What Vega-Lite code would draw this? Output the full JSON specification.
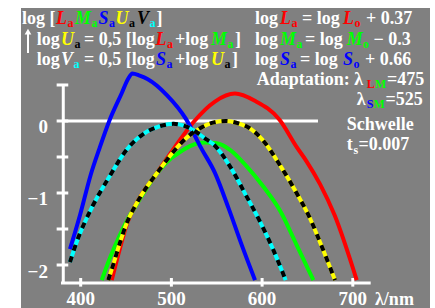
{
  "$schema": "https://vega.github.io/schema/vega-lite/v6.json",
  "width": 409,
  "height": 300,
  "autosize": {"type": "none"},
  "padding": {"left": 21, "top": 8, "right": 5, "bottom": 0},
  "background": "white",
  "config": {"view": {"fill": "#808080", "stroke": null}},
  "datasets": {
    "curves": [
      {"s": "L", "x": 434.2, "y": -2.21}, {"s": "L", "x": 442, "y": -1.83}, {"s": "L", "x": 450.7, "y": -1.44}, {"s": "L", "x": 465.4, "y": -1.06}, {"s": "L", "x": 482.6, "y": -0.75}, {"s": "L", "x": 504, "y": -0.36}, {"s": "L", "x": 524, "y": -0.02}, {"s": "L", "x": 548, "y": 0.27}, {"s": "L", "x": 570, "y": 0.38}, {"s": "L", "x": 592, "y": 0.28}, {"s": "L", "x": 619, "y": 0.02}, {"s": "L", "x": 638, "y": -0.36}, {"s": "L", "x": 649, "y": -0.56}, {"s": "L", "x": 664, "y": -0.88}, {"s": "L", "x": 680, "y": -1.31}, {"s": "L", "x": 704.3, "y": -2.21},
      {"s": "M", "x": 423.2, "y": -2.21}, {"s": "M", "x": 433, "y": -1.88}, {"s": "M", "x": 443.3, "y": -1.58}, {"s": "M", "x": 452, "y": -1.36}, {"s": "M", "x": 461, "y": -1.17}, {"s": "M", "x": 482.6, "y": -0.75}, {"s": "M", "x": 498.5, "y": -0.53}, {"s": "M", "x": 509.5, "y": -0.43}, {"s": "M", "x": 520.5, "y": -0.35}, {"s": "M", "x": 537, "y": -0.3}, {"s": "M", "x": 550, "y": -0.31}, {"s": "M", "x": 564.6, "y": -0.4}, {"s": "M", "x": 583, "y": -0.63}, {"s": "M", "x": 601.3, "y": -0.91}, {"s": "M", "x": 620, "y": -1.25}, {"s": "M", "x": 638, "y": -1.72}, {"s": "M", "x": 656.5, "y": -2.21},
      {"s": "S", "x": 388.2, "y": -1.78}, {"s": "S", "x": 399.2, "y": -1.31}, {"s": "S", "x": 411, "y": -0.75}, {"s": "S", "x": 421, "y": -0.37}, {"s": "S", "x": 431.5, "y": 0}, {"s": "S", "x": 445.2, "y": 0.385}, {"s": "S", "x": 452.5, "y": 0.59}, {"s": "S", "x": 457, "y": 0.66}, {"s": "S", "x": 465, "y": 0.63}, {"s": "S", "x": 474, "y": 0.58}, {"s": "S", "x": 495, "y": 0.36}, {"s": "S", "x": 516, "y": 0.03}, {"s": "S", "x": 533, "y": -0.38}, {"s": "S", "x": 548, "y": -0.72}, {"s": "S", "x": 563, "y": -1.21}, {"s": "S", "x": 577.5, "y": -1.72}, {"s": "S", "x": 592.2, "y": -2.21},
      {"s": "U", "x": 430.4, "y": -2.21}, {"s": "U", "x": 437, "y": -1.95}, {"s": "U", "x": 443.3, "y": -1.69}, {"s": "U", "x": 450.7, "y": -1.42}, {"s": "U", "x": 461, "y": -1.16}, {"s": "U", "x": 471, "y": -0.95}, {"s": "U", "x": 482.6, "y": -0.75}, {"s": "U", "x": 502, "y": -0.43}, {"s": "U", "x": 517, "y": -0.23}, {"s": "U", "x": 533, "y": -0.09}, {"s": "U", "x": 547, "y": -0.02}, {"s": "U", "x": 560, "y": 0.0}, {"s": "U", "x": 573, "y": -0.03}, {"s": "U", "x": 585, "y": -0.09}, {"s": "U", "x": 601, "y": -0.27}, {"s": "U", "x": 620, "y": -0.62}, {"s": "U", "x": 638, "y": -1.0}, {"s": "U", "x": 652, "y": -1.33}, {"s": "U", "x": 666, "y": -1.75}, {"s": "U", "x": 680.4, "y": -2.21},
      {"s": "V", "x": 388.2, "y": -1.96}, {"s": "V", "x": 395.6, "y": -1.68}, {"s": "V", "x": 412, "y": -1.21}, {"s": "V", "x": 430.4, "y": -0.8}, {"s": "V", "x": 450.7, "y": -0.4}, {"s": "V", "x": 472.8, "y": -0.15}, {"s": "V", "x": 488, "y": -0.07}, {"s": "V", "x": 502, "y": -0.04}, {"s": "V", "x": 520.5, "y": -0.1}, {"s": "V", "x": 539, "y": -0.26}, {"s": "V", "x": 546, "y": -0.32}, {"s": "V", "x": 564.6, "y": -0.63}, {"s": "V", "x": 583, "y": -1.05}, {"s": "V", "x": 597, "y": -1.38}, {"s": "V", "x": 612, "y": -1.78}, {"s": "V", "x": 626, "y": -2.21}
    ],
    "rules": [
      {"x": 378.3, "x2": 719.7, "y": -2.25, "y2": -2.25},
      {"x": 380.8, "x2": 380.8, "y": -2.25, "y2": 0.51},
      {"x": 380.8, "x2": 661.6, "y": 0, "y2": 0},
      {"x": 373.5, "x2": 386.3, "y": -2, "y2": -2},
      {"x": 373.5, "x2": 386.3, "y": -1.5, "y2": -1.5},
      {"x": 373.5, "x2": 386.3, "y": -1, "y2": -1},
      {"x": 373.5, "x2": 386.3, "y": -0.5, "y2": -0.5},
      {"x": 373.5, "x2": 386.3, "y": 0, "y2": 0},
      {"x": 373.5, "x2": 386.3, "y": 0.5, "y2": 0.5},
      {"x": 400, "x2": 400, "y": -2.18, "y2": -2.3},
      {"x": 500, "x2": 500, "y": -2.18, "y2": -2.3},
      {"x": 600, "x2": 600, "y": -2.18, "y2": -2.3},
      {"x": 700, "x2": 700, "y": -2.18, "y2": -2.3}
    ],
    "shaft": [{"x": 341.9, "x2": 341.9, "y": 0.944, "y2": 1.222}],
    "head": [{"x": 341.9, "y": 1.24}],
    "xlab": [
      {"x": 400, "y": -2.56, "t": "400"}, {"x": 500, "y": -2.56, "t": "500"}, {"x": 600, "y": -2.56, "t": "600"}, {"x": 700, "y": -2.56, "t": "700"}
    ],
    "ylab": [
      {"x": 363.9, "y": -0.1625, "t": "0"}, {"x": 363.9, "y": -1.167, "t": "−1"}, {"x": 363.9, "y": -2.18, "t": "−2"}
    ],
    "txt": [
      {"x": 335.3, "y": 1.347, "t": "log [", "c": "w", "k": "n"},
      {"x": 372.8, "y": 1.347, "t": "L", "c": "r", "k": "i"},
      {"x": 385.4, "y": 1.347, "t": "a", "c": "r", "k": "s"},
      {"x": 393.7, "y": 1.347, "t": "M", "c": "g", "k": "i"},
      {"x": 411.9, "y": 1.347, "t": "a", "c": "g", "k": "s"},
      {"x": 419.6, "y": 1.347, "t": "S", "c": "b", "k": "i"},
      {"x": 431.2, "y": 1.347, "t": "a", "c": "b", "k": "s"},
      {"x": 438.4, "y": 1.347, "t": "U", "c": "y", "k": "i"},
      {"x": 453.3, "y": 1.347, "t": "a", "c": "k", "k": "s"},
      {"x": 462.1, "y": 1.347, "t": "V", "c": "k", "k": "i"},
      {"x": 475.9, "y": 1.347, "t": "a", "c": "c", "k": "s"},
      {"x": 483.6, "y": 1.347, "t": "]", "c": "w", "k": "n"},
      {"x": 592.2, "y": 1.347, "t": "log", "c": "w", "k": "n"},
      {"x": 619.7, "y": 1.347, "t": "L", "c": "r", "k": "i"},
      {"x": 632.4, "y": 1.347, "t": "a", "c": "r", "k": "s"},
      {"x": 644.0, "y": 1.347, "t": "= log", "c": "w", "k": "n"},
      {"x": 689.2, "y": 1.347, "t": "L", "c": "r", "k": "i"},
      {"x": 701.9, "y": 1.347, "t": "o", "c": "r", "k": "s"},
      {"x": 714.5, "y": 1.347, "t": "+ 0.37", "c": "w", "k": "n"},
      {"x": 351.5, "y": 1.056, "t": "log", "c": "w", "k": "n"},
      {"x": 378.3, "y": 1.056, "t": "U", "c": "y", "k": "i"},
      {"x": 393.2, "y": 1.056, "t": "a", "c": "k", "k": "s"},
      {"x": 403.6, "y": 1.056, "t": "= 0,5 [log", "c": "w", "k": "n"},
      {"x": 482.5, "y": 1.056, "t": "L", "c": "r", "k": "i"},
      {"x": 495.1, "y": 1.056, "t": "a", "c": "r", "k": "s"},
      {"x": 504.0, "y": 1.056, "t": "+log", "c": "w", "k": "n"},
      {"x": 543.7, "y": 1.056, "t": "M", "c": "g", "k": "i"},
      {"x": 561.8, "y": 1.056, "t": "a", "c": "g", "k": "s"},
      {"x": 570.1, "y": 1.056, "t": "]", "c": "w", "k": "n"},
      {"x": 592.2, "y": 1.056, "t": "log", "c": "w", "k": "n"},
      {"x": 619.7, "y": 1.056, "t": "M", "c": "g", "k": "i"},
      {"x": 637.9, "y": 1.056, "t": "a", "c": "g", "k": "s"},
      {"x": 647.3, "y": 1.056, "t": "= log", "c": "w", "k": "n"},
      {"x": 693.3, "y": 1.056, "t": "M", "c": "g", "k": "i"},
      {"x": 711.2, "y": 1.056, "t": "o", "c": "g", "k": "s"},
      {"x": 722.8, "y": 1.056, "t": "− 0.3", "c": "w", "k": "n"},
      {"x": 351.5, "y": 0.778, "t": "log", "c": "w", "k": "n"},
      {"x": 378.3, "y": 0.778, "t": "V", "c": "w", "k": "i"},
      {"x": 392.1, "y": 0.778, "t": "a", "c": "c", "k": "s"},
      {"x": 403.6, "y": 0.778, "t": "= 0,5 [log", "c": "w", "k": "n"},
      {"x": 483.0, "y": 0.778, "t": "S", "c": "b", "k": "i"},
      {"x": 494.6, "y": 0.778, "t": "a", "c": "b", "k": "s"},
      {"x": 504.0, "y": 0.778, "t": "+log", "c": "w", "k": "n"},
      {"x": 543.7, "y": 0.778, "t": "U", "c": "y", "k": "i"},
      {"x": 558.5, "y": 0.778, "t": "a", "c": "k", "k": "s"},
      {"x": 566.8, "y": 0.778, "t": "]", "c": "w", "k": "n"},
      {"x": 592.2, "y": 0.778, "t": "log", "c": "w", "k": "n"},
      {"x": 619.7, "y": 0.778, "t": "S", "c": "b", "k": "i"},
      {"x": 631.3, "y": 0.778, "t": "a", "c": "b", "k": "s"},
      {"x": 641.8, "y": 0.778, "t": "= log", "c": "w", "k": "n"},
      {"x": 689.2, "y": 0.778, "t": "S", "c": "b", "k": "i"},
      {"x": 700.8, "y": 0.778, "t": "o", "c": "b", "k": "s"},
      {"x": 713.4, "y": 0.778, "t": "+ 0.66", "c": "w", "k": "n"},
      {"x": 594.0, "y": 0.5, "t": "Adaptation: λ", "c": "w", "k": "n"},
      {"x": 715.3, "y": 0.5, "t": "L", "c": "r", "k": "s"},
      {"x": 724.4, "y": 0.5, "t": "M", "c": "g", "k": "s"},
      {"x": 737.7, "y": 0.5, "t": "=475", "c": "w", "k": "n"},
      {"x": 704.3, "y": 0.222, "t": "λ", "c": "w", "k": "n"},
      {"x": 715.3, "y": 0.222, "t": "S", "c": "b", "k": "s"},
      {"x": 722.8, "y": 0.222, "t": "M", "c": "g", "k": "s"},
      {"x": 736.1, "y": 0.222, "t": "=525", "c": "w", "k": "n"},
      {"x": 693.3, "y": -0.125, "t": "Schwelle", "c": "w", "k": "n"},
      {"x": 693.3, "y": -0.403, "t": "t", "c": "w", "k": "n"},
      {"x": 700.8, "y": -0.403, "t": "s", "c": "w", "k": "s"},
      {"x": 706.3, "y": -0.403, "t": "=0.007", "c": "w", "k": "n"},
      {"x": 724.5, "y": -2.56, "t": "λ/nm", "c": "w", "k": "n"}
    ]
  },
  "encoding": {
    "x": {"field": "x", "type": "quantitative", "scale": {"domain": [334.2, 785.1], "nice": false, "zero": false}, "axis": null},
    "y": {"field": "y", "type": "quantitative", "scale": {"domain": [-2.597, 1.569], "nice": false, "zero": false}, "axis": null}
  },
  "layer": [
    {
      "data": {"name": "rules"},
      "mark": {"type": "rule", "color": "white", "strokeWidth": 3},
      "encoding": {"x2": {"field": "x2"}, "y2": {"field": "y2"}}
    },
    {
      "data": {"name": "shaft"},
      "mark": {"type": "rule", "color": "white", "strokeWidth": 2},
      "encoding": {"x2": {"field": "x2"}, "y2": {"field": "y2"}}
    },
    {
      "data": {"name": "head"},
      "mark": {"type": "point", "shape": "triangle-up", "filled": true, "color": "white", "opacity": 1, "size": 45}
    },
    {
      "data": {"name": "curves"},
      "mark": {"type": "line", "strokeWidth": 4, "interpolate": "monotone"},
      "encoding": {
        "color": {"field": "s", "type": "nominal", "scale": {"domain": ["L", "M", "S", "U", "V"], "range": ["#ff0000", "#00ff00", "#0000ff", "#ffff00", "#00ffff"]}, "legend": null}
      }
    },
    {
      "data": {"name": "curves"},
      "transform": [{"filter": "datum.s == 'U' || datum.s == 'V'"}],
      "mark": {"type": "line", "strokeWidth": 4, "interpolate": "monotone", "color": "black", "strokeDash": [6, 6]},
      "encoding": {"detail": {"field": "s", "type": "nominal"}}
    },
    {
      "data": {"name": "xlab"},
      "mark": {"type": "text", "font": "Liberation Serif", "fontWeight": "bold", "fontSize": 19, "color": "white", "align": "center", "baseline": "alphabetic"},
      "encoding": {"text": {"field": "t"}}
    },
    {
      "data": {"name": "ylab"},
      "mark": {"type": "text", "font": "Liberation Serif", "fontWeight": "bold", "fontSize": 19, "color": "white", "align": "right", "baseline": "alphabetic"},
      "encoding": {"text": {"field": "t"}}
    },
    {
      "data": {"name": "txt"},
      "transform": [{"filter": "datum.k == 'n'"}],
      "mark": {"type": "text", "font": "Liberation Serif", "fontWeight": "bold", "fontSize": 18, "align": "left", "baseline": "alphabetic"},
      "encoding": {
        "text": {"field": "t"},
        "color": {"field": "c", "type": "nominal", "scale": {"domain": ["w", "r", "g", "b", "y", "k", "c"], "range": ["#ffffff", "#ff0000", "#00ff00", "#0000ff", "#ffff00", "#000000", "#00ffff"]}, "legend": null}
      }
    },
    {
      "data": {"name": "txt"},
      "transform": [{"filter": "datum.k == 'i'"}],
      "mark": {"type": "text", "font": "Liberation Serif", "fontWeight": "bold", "fontStyle": "italic", "fontSize": 18, "align": "left", "baseline": "alphabetic"},
      "encoding": {
        "text": {"field": "t"},
        "color": {"field": "c", "type": "nominal", "scale": {"domain": ["w", "r", "g", "b", "y", "k", "c"], "range": ["#ffffff", "#ff0000", "#00ff00", "#0000ff", "#ffff00", "#000000", "#00ffff"]}, "legend": null}
      }
    },
    {
      "data": {"name": "txt"},
      "transform": [{"filter": "datum.k == 's'"}],
      "mark": {"type": "text", "font": "Liberation Serif", "fontWeight": "bold", "fontSize": 12, "dy": 3.5, "align": "left", "baseline": "alphabetic"},
      "encoding": {
        "text": {"field": "t"},
        "color": {"field": "c", "type": "nominal", "scale": {"domain": ["w", "r", "g", "b", "y", "k", "c"], "range": ["#ffffff", "#ff0000", "#00ff00", "#0000ff", "#ffff00", "#000000", "#00ffff"]}, "legend": null}
      }
    }
  ],
  "resolve": {"scale": {"color": "independent"}}
}
